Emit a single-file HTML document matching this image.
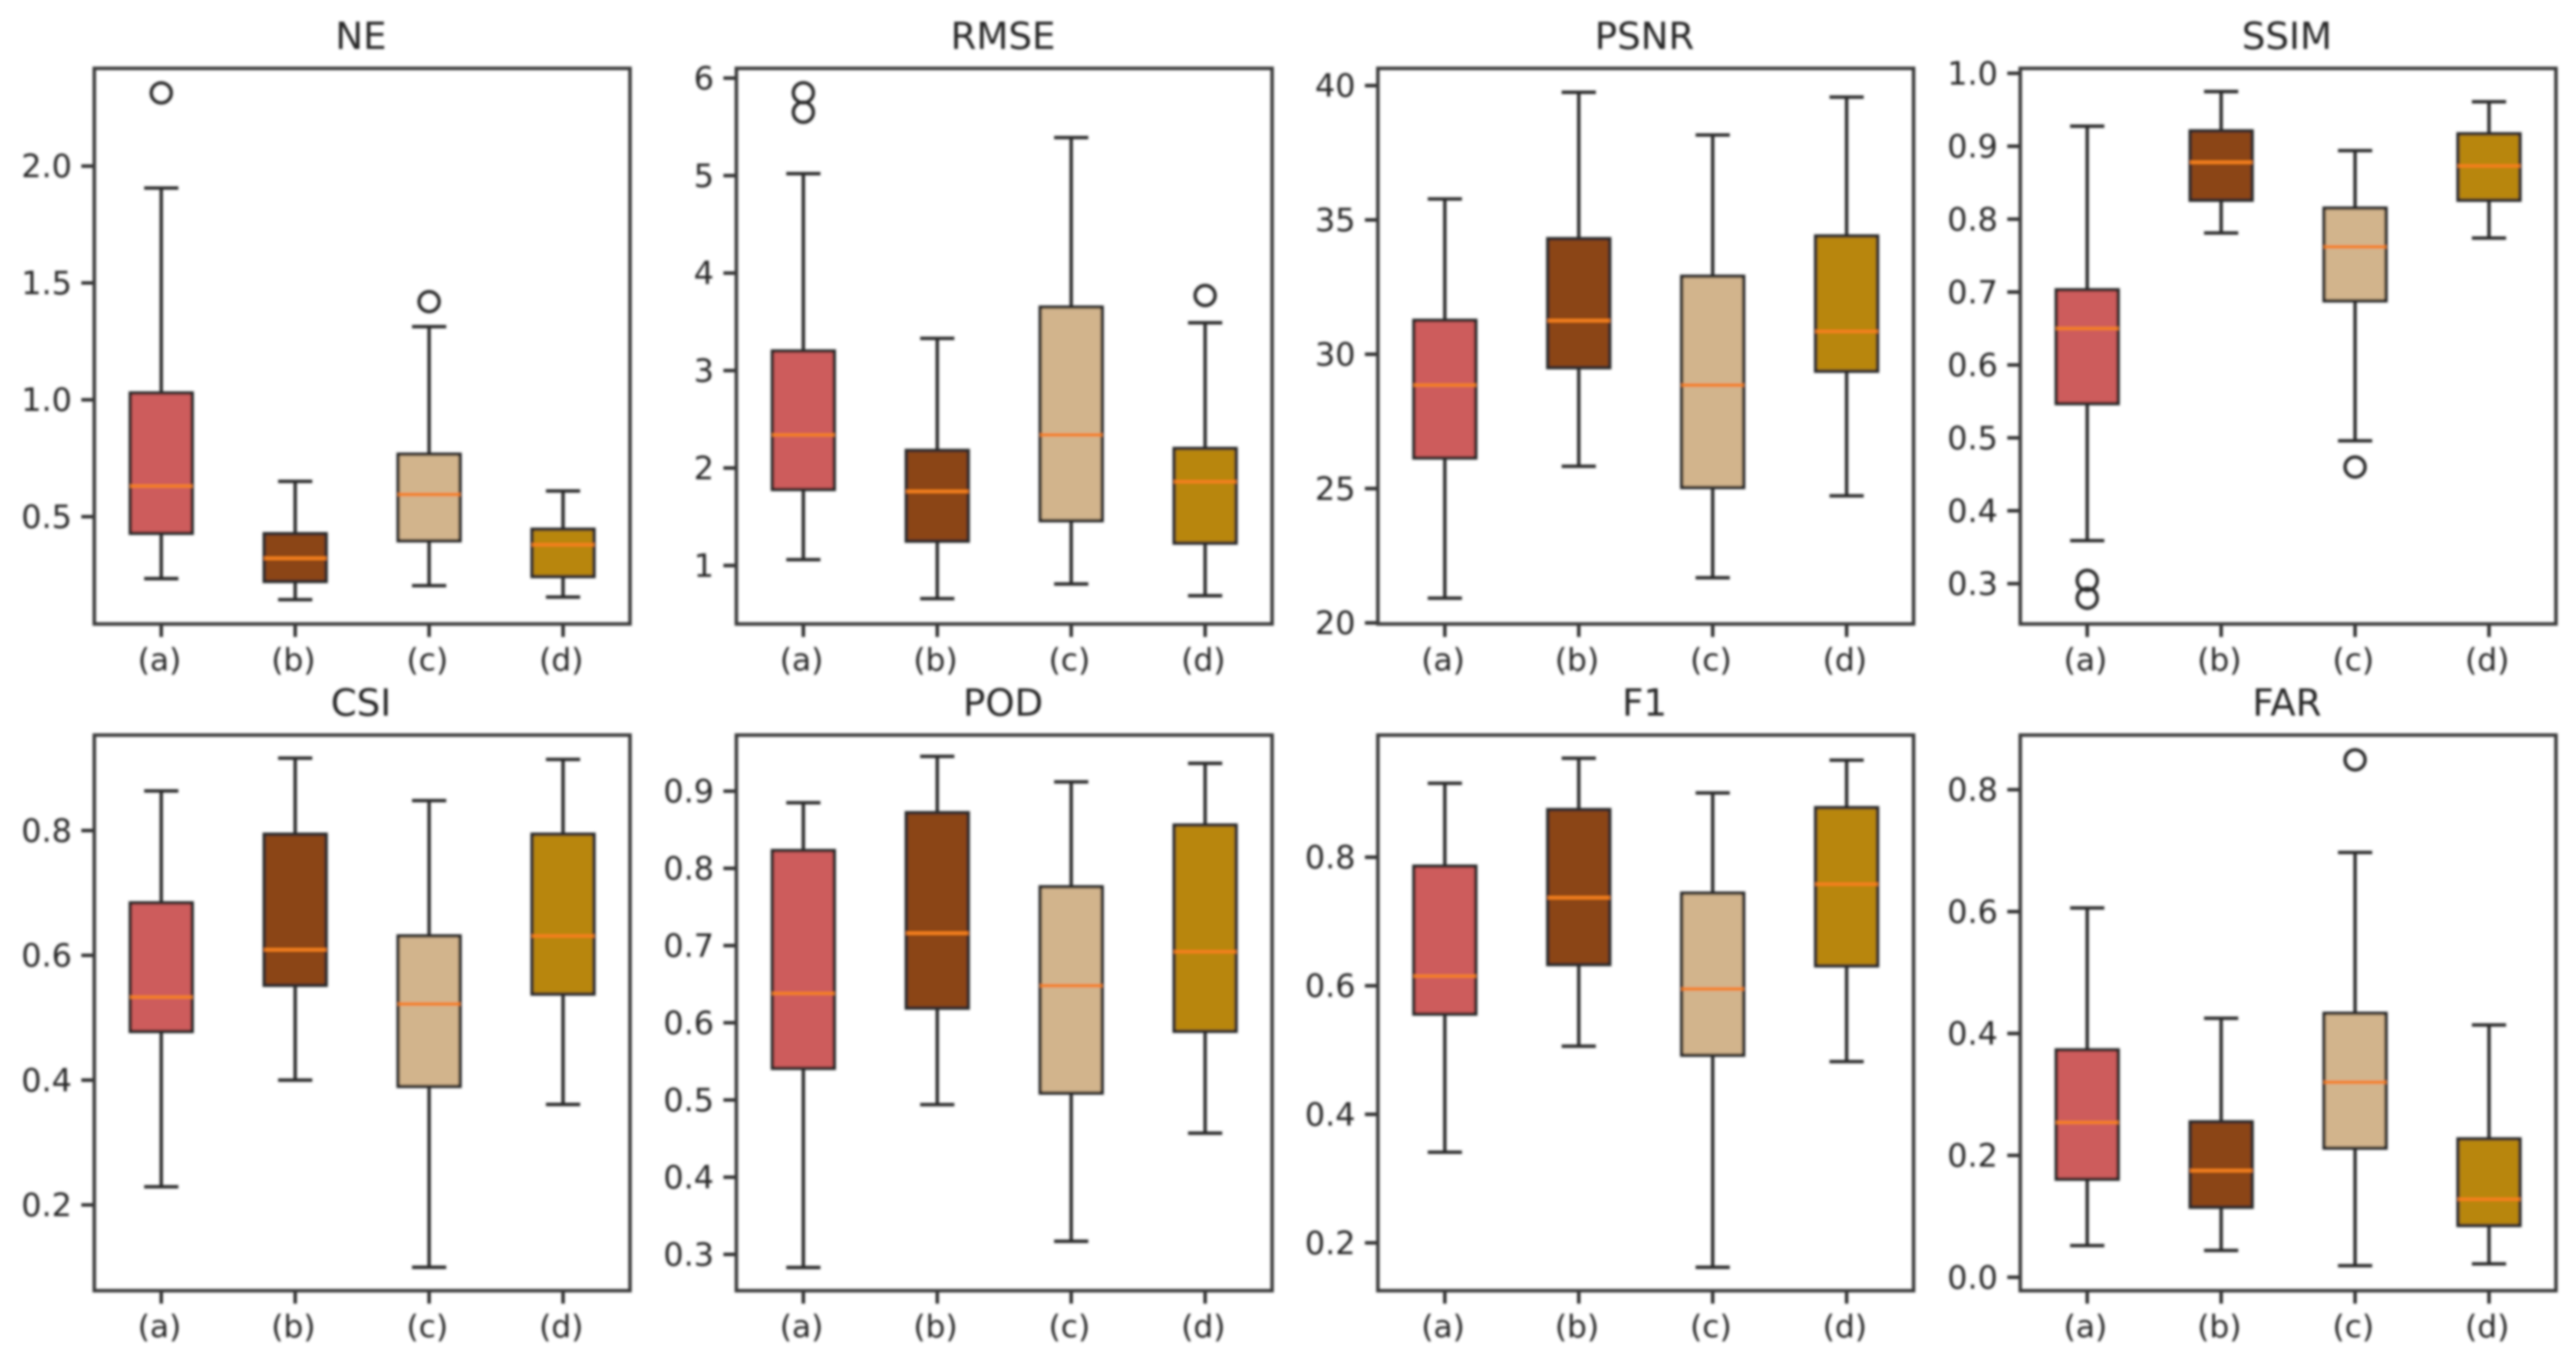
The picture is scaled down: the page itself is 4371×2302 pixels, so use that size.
<!DOCTYPE html>
<html lang="en">
<head>
<meta charset="utf-8">
<title>Boxplots of eight metrics</title>
<style>
html,body{margin:0;padding:0;background:#fff;width:4371px;height:2302px;overflow:hidden}
svg{display:block}
text{font-family:"DejaVu Sans","Liberation Sans",sans-serif;fill:#262626}
</style>
</head>
<body>
<svg id="chart" xmlns="http://www.w3.org/2000/svg" width="4371" height="2302" viewBox="0 0 4371 2302">
<defs><filter id="soft" x="0" y="0" width="4371" height="2302" filterUnits="userSpaceOnUse"><feGaussianBlur stdDeviation="2.2"/></filter></defs>
<rect x="0" y="0" width="4371" height="2302" fill="#ffffff"/>
<g id="root" filter="url(#soft)"></g>
</svg>
<script>
// Data: one row per panel, one entry per category
const metrics = ["NE", "RMSE", "PSNR", "SSIM", "CSI", "POD", "F1", "FAR"];
const categories = ["(a)", "(b)", "(c)", "(d)"];
const whiskerLow = [
  [0.235, 0.145, 0.205, 0.156],
  [1.06, 0.66, 0.81, 0.69],
  [20.92, 25.83, 21.68, 24.73],
  [0.359, 0.781, 0.496, 0.774],
  [0.229, 0.40, 0.10, 0.361],
  [0.283, 0.494, 0.317, 0.457],
  [0.341, 0.506, 0.162, 0.482],
  [0.052, 0.044, 0.019, 0.022]
];
const quartile1 = [
  [0.429, 0.223, 0.397, 0.244],
  [1.78, 1.25, 1.46, 1.23],
  [26.14, 29.5, 25.04, 29.37],
  [0.547, 0.826, 0.688, 0.826],
  [0.478, 0.552, 0.39, 0.538],
  [0.541, 0.619, 0.509, 0.589],
  [0.556, 0.633, 0.492, 0.631],
  [0.161, 0.115, 0.212, 0.085]
];
const medians = [
  [0.631, 0.322, 0.595, 0.38],
  [2.34, 1.76, 2.34, 1.86],
  [28.85, 31.25, 28.85, 30.85],
  [0.65, 0.878, 0.762, 0.873],
  [0.533, 0.609, 0.522, 0.631],
  [0.638, 0.716, 0.648, 0.692],
  [0.615, 0.737, 0.595, 0.758],
  [0.254, 0.175, 0.32, 0.128]
];
const quartile3 = [
  [1.029, 0.427, 0.767, 0.446],
  [3.2, 2.18, 3.65, 2.2],
  [31.26, 34.3, 32.9, 34.4],
  [0.703, 0.921, 0.815, 0.917],
  [0.684, 0.794, 0.631, 0.794],
  [0.823, 0.872, 0.776, 0.856],
  [0.786, 0.874, 0.744, 0.877],
  [0.373, 0.255, 0.433, 0.227]
];
const whiskerHigh = [
  [1.906, 0.651, 1.313, 0.61],
  [5.02, 3.33, 5.39, 3.49],
  [35.78, 39.75, 38.16, 39.57],
  [0.9275, 0.975, 0.894, 0.961],
  [0.8635, 0.916, 0.848, 0.914],
  [0.885, 0.945, 0.912, 0.936],
  [0.915, 0.954, 0.90, 0.951],
  [0.606, 0.425, 0.697, 0.414]
];
const fliers = [
  [[2.313], [], [1.42], []],
  [[5.85, 5.65], [], [], [3.77]],
  [[], [], [], []],
  [[0.3045, 0.28], [], [0.46], []],
  [[], [], [], []],
  [[], [], [], []],
  [[], [], [], []],
  [[], [], [0.849], []]
];
const yDomains = [
  [0.041, 2.418],
  [0.40, 6.10],
  [19.96, 40.64],
  [0.2447, 1.0068],
  [0.0625, 0.953],
  [0.253, 0.9726],
  [0.1256, 0.99],
  [-0.022, 0.8896]
];
const yTickLabels = [
  ["0.5", "1.0", "1.5", "2.0"],
  ["1", "2", "3", "4", "5", "6"],
  ["20", "25", "30", "35", "40"],
  ["0.3", "0.4", "0.5", "0.6", "0.7", "0.8", "0.9", "1.0"],
  ["0.2", "0.4", "0.6", "0.8"],
  ["0.3", "0.4", "0.5", "0.6", "0.7", "0.8", "0.9"],
  ["0.2", "0.4", "0.6", "0.8"],
  ["0.0", "0.2", "0.4", "0.6", "0.8"]
];
const boxColors = ["#CD5C5C", "#8B4513", "#D2B48C", "#B8860B"];

// Layout
const columnLefts = [160, 1249.5, 2338, 3428];
const rowTops = [116, 1247];
const plotW = 909, plotH = 942.5;
const ink = "#2a2a2a", lineW = 5.8;
const root = document.getElementById("root");
const NS = "http://www.w3.org/2000/svg";

function make(tag, attrs, parent) {
  const el = document.createElementNS(NS, tag);
  for (const k in attrs) el.setAttribute(k, attrs[k]);
  parent.appendChild(el);
  return el;
}
function line(x1, y1, x2, y2, color, width, parent) {
  return make("line", { x1: x1, y1: y1, x2: x2, y2: y2, stroke: color, "stroke-width": width }, parent);
}

metrics.forEach(function (metric, p) {
  const left = columnLefts[p % 4];
  const top = rowTops[Math.floor(p / 4)];
  const bottom = top + plotH;
  const right = left + plotW;
  const domain = yDomains[p];
  const xScale = function (i) { return left + plotW * (2 * i + 1) / (2 * categories.length); };
  const yScale = function (v) { return bottom - (v - domain[0]) / (domain[1] - domain[0]) * plotH; };
  const slug = metric.toLowerCase();

  const g = make("g", {}, root);
  
  

  const title = make("text", { x: (left + right) / 2 - 2, y: top - 33, "text-anchor": "middle", "font-size": 63 }, g);
  title.textContent = metric;
  
  

  categories.forEach(function (cat, i) {
    const x = xScale(i);
    const capHalf = 29, boxHalf = 52.5;
    const key = slug + '-' + cat.replace(/[()]/g, '');

    const whiskLow = line(x, yScale(quartile1[p][i]), x, yScale(whiskerLow[p][i]), ink, lineW, g);
    
    

    const whiskHigh = line(x, yScale(quartile3[p][i]), x, yScale(whiskerHigh[p][i]), ink, lineW, g);
    
    

    const capLow = line(x - capHalf, yScale(whiskerLow[p][i]), x + capHalf, yScale(whiskerLow[p][i]), ink, lineW, g);
    
    

    const capHigh = line(x - capHalf, yScale(whiskerHigh[p][i]), x + capHalf, yScale(whiskerHigh[p][i]), ink, lineW, g);
    
    

    const yQ3 = yScale(quartile3[p][i]);
    const yQ1 = yScale(quartile1[p][i]);
    const box = make("rect", { x: x - boxHalf, y: yQ3, width: boxHalf * 2, height: yQ1 - yQ3, fill: boxColors[i], stroke: ink, "stroke-width": lineW }, g);
    
    

    const med = line(x - boxHalf, yScale(medians[p][i]), x + boxHalf, yScale(medians[p][i]), "#F47F1A", lineW, g);
    
    

    fliers[p][i].forEach(function (v) {
      const dot = make("circle", { cx: x, cy: yScale(v), r: 17, fill: "none", stroke: ink, "stroke-width": lineW }, g);
      
      
    });

    const tick = line(x, bottom, x, bottom + 22, ink, lineW, g);
    
    

    const label = make("text", { x: x - 3, y: bottom + 79, "text-anchor": "middle", "font-size": 53 }, g);
    label.textContent = cat;
    
    
  });

  yTickLabels[p].forEach(function (txt) {
    const y = yScale(Number(txt));
    const tick = line(left - 22, y, left, y, ink, lineW, g);
    
    

    const label = make("text", { x: left - 38, y: y + 19, "text-anchor": "end", "font-size": 54 }, g);
    label.textContent = txt;
    
    
  });

  const frame = make("rect", { x: left, y: top, width: plotW, height: plotH, fill: "none", stroke: "#3a3a3a", "stroke-width": 6 }, g);
  
  
});
</script>
</body>
</html>
